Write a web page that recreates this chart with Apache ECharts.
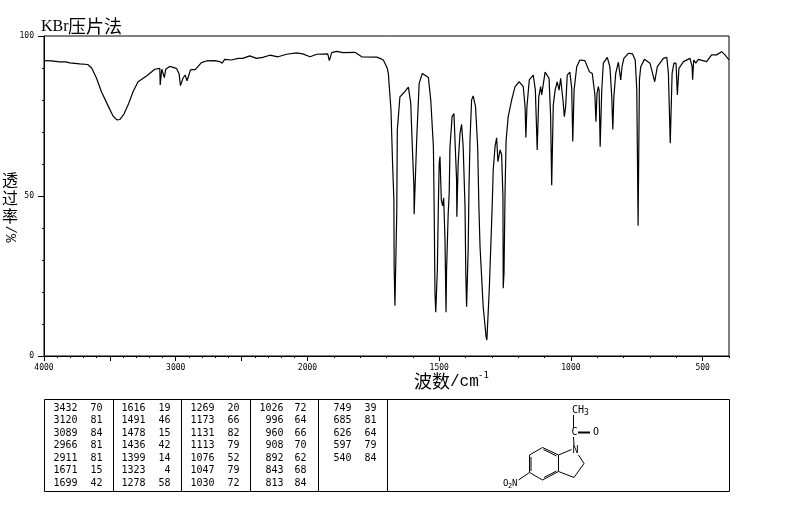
<!DOCTYPE html>
<html lang="zh">
<head>
	<meta charset="UTF-8">
	<title>KBr压片法</title>
	<style>
	body, div, p {
		margin: 0;
		padding: 0;
		background: #fff;
	}
	#chart {
		width: 794px;
		height: 510px;
	}
	</style>
</head>
<body>
	<div id="chart"></div>
	<script src="https://cdn.jsdelivr.net/npm/echarts@6/dist/echarts.min.js"></script>
	<script>

	// trace: wavenumber (cm-1) and transmittance (%)
	var wavenumbers = [
		4000,3942,3881,3835,3805,3729,3668,3638,3602,3564,3516,3476,3446,3425,3393,3362,3324,3286,3222,3159,
		3121,3118,3106,3096,3086,3076,3046,2995,2975,2964,2945,2929,2914,2888,2873,2850,2805,2767,2704,2666,
		2648,2628,2577,2527,2491,2438,2387,2339,2286,2223,2159,2084,2036,1990,1965,1923,1917,1908,1889,1865,
		1820,1794,1737,1725,1712,1706,1697,1693,1689,1683,1677,1672,1671,1668,1661,1659,1649,1636,1617,1608,
		1602,1596,1595,1592,1585,1576,1564,1541,1532,1522,1519,1516,1513,1507,1503,1500,1497,1492,1487,1483,
		1478,1474,1472,1466,1462,1459,1451,1444,1439,1434,1433,1428,1421,1415,1409,1402,1399,1396,1390,1387,
		1383,1377,1371,1362,1354,1349,1345,1333,1322,1319,1310,1301,1297,1295,1288,1282,1277,1269,1263,1258,
		1257,1254,1250,1246,1238,1225,1212,1196,1181,1174,1171,1167,1158,1143,1135,1128,1122,1115,1111,1098,
		1083,1077,1073,1067,1060,1052,1045,1039,1033,1029,1025,1020,1014,1004,997,993,988,978,966,947,
		930,919,909,905,901,896,893,889,883,877,862,852,845,841,837,830,820,815,811,806,
		799,782,766,756,750,745,740,735,721,700,690,682,672,649,636,630,623,616,609,601,
		596,590,573,548,540,538,534,526,517,485,466,447,428,415,400
	];
	var transmittance = [
		92.3,92.2,91.9,91.9,91.6,91.3,91.1,90,86.9,82.6,78.4,75,73.8,73.9,75.6,78.4,82.6,85.7,87.5,89.6,
		89.9,84.7,89.6,89.4,87,89.6,90.5,89.9,88.3,84.5,86.8,87.8,86,89.4,89.9,89.6,91.7,92.2,92.3,92,
		91.5,92.7,92.5,93,93,93.8,93,93.3,94,93.5,94.3,94.7,94.4,93.5,94.3,94.4,92.3,94.8,95.2,94.8,
		94.9,93.5,93.4,93,92.5,91.5,89.9,88.3,83.7,76.9,60.3,48.8,27.9,15.7,45.1,70.6,81,82.1,84,79,
		65.4,52.9,44.3,51.9,68.5,85.2,88.3,87,80,65.4,45.6,19.6,13.7,26.9,47.8,60.2,62.3,48.8,46.9,49.4,
		36.3,13.7,26.9,44.1,50.9,65.4,74.8,75.8,65.4,55,43.5,60.2,69.6,72.4,65.4,46.7,25.9,15.4,33.1,51.9,
		67.5,80,81.3,77.9,65.4,45.6,34.2,15.4,6,5,20.6,41.6,51.9,58.1,65.4,68.2,60.7,64.4,62.9,49.8,
		21.2,25.9,51.3,67.5,74.8,80,84.2,85.7,84.2,77.9,68.3,77.9,86.3,87.8,83.1,64.4,81,84.2,81.6,88.7,
		86.8,74.8,53.4,78.4,83.1,85.7,83.1,86.8,86.3,79,74.8,77.9,87.8,88.7,83.7,67,83.1,90.4,92.5,92.3,
		88.8,88.3,81.6,73.2,82.1,84.2,83.1,65.4,83.1,91.5,93.3,90.4,81,70.8,81,88.3,91.8,88.8,86.3,90.4,
		93,94.6,94.4,92.5,83.1,40.7,86.3,90.4,92.7,91.5,88.3,85.7,90.4,93,93.3,88.3,66.5,88.3,91.5,91.5,
		81.6,89.9,92,93,90.4,86.3,92.5,91.5,92.7,92,94.1,94.1,95.1,94.1,92.5
	];

	// x axis tick labels (wavenumber)
	var majorLabels = [4000, 3000, 2000, 1500, 1000, 500];
	var majorTicks = [4000, 3500, 3000, 2500, 2000, 1500, 1000, 500];

	// peak table, one pair of lists per column
	var peakWave1 = [3432, 3120, 3089, 2966, 2911, 1671, 1699];
	var peakTran1 = [70, 81, 84, 81, 81, 15, 42];
	var peakWave2 = [1616, 1491, 1478, 1436, 1399, 1323, 1278];
	var peakTran2 = [19, 46, 15, 42, 14, 4, 58];
	var peakWave3 = [1269, 1173, 1131, 1113, 1076, 1047, 1030];
	var peakTran3 = [20, 66, 82, 79, 52, 79, 72];
	var peakWave4 = [1026, 996, 960, 908, 892, 843, 813];
	var peakTran4 = [72, 64, 66, 70, 62, 68, 84];
	var peakWave5 = [749, 685, 626, 597, 540];
	var peakTran5 = [39, 81, 64, 79, 84];

	// the instrument doubles the scale below 2000 cm-1
	function toAxis(wn) {
		return wn >= 2000 ? 4000 - wn : 2000 + 2 * (2000 - wn);
	}
	function fromAxis(u) {
		return u <= 2000 ? 4000 - u : 2000 - (u - 2000) / 2;
	}

	var seriesData = wavenumbers.map(function (wn, i) {
		return [toAxis(wn), transmittance[i]];
	});

	// minor ticks: every 100 cm-1 over the whole range
	var minorTicks = [];
	for (var wn = 4000; wn >= 400; wn -= 100) {
		minorTicks.push(toAxis(wn));
	}

	var MONO = '"DejaVu Sans Mono", monospace';
	var CJK = '"Noto Sans CJK SC", sans-serif';

	var graphics = [];

	function addText(text, x, y, font, align, rotation) {
		graphics.push({
			type: 'text',
			x: x,
			y: y,
			rotation: rotation || 0,
			silent: true,
			style: { text: text, x: 0, y: 0, font: font, fill: '#000', align: align || 'left', verticalAlign: 'middle' }
		});
	}

	function addLine(x1, y1, x2, y2, w) {
		graphics.push({
			type: 'line',
			silent: true,
			shape: { x1: x1, y1: y1, x2: x2, y2: y2 },
			style: { stroke: '#000', lineWidth: w || 1 }
		});
	}

	// title
	addText('KBr', 41, 27, '16px "Liberation Serif", serif');
	addText('压片法', 68, 26, '18px ' + CJK);

	// y title, upright characters stacked, unit turned
	addText('透', 10, 180, '16px ' + CJK, 'center');
	addText('过', 10, 198, '16px ' + CJK, 'center');
	addText('率', 10, 216, '16px ' + CJK, 'center');
	addText('/%', 10, 234, '14px "Liberation Mono", monospace', 'center', -Math.PI / 2);

	// x title
	addText('波数', 414, 381, '18px ' + CJK);
	addText('/cm', 450, 382, '16px "Liberation Mono", monospace');
	addText('-1', 478, 376, '9px ' + MONO);

	// table frame
	var tableLeft = 44.5, tableRight = 729.5, tableTop = 399.5, tableBottom = 491.5;
	graphics.push({
		type: 'rect',
		silent: true,
		shape: { x: tableLeft, y: tableTop, width: tableRight - tableLeft, height: tableBottom - tableTop },
		style: { fill: 'none', stroke: '#000', lineWidth: 1 }
	});
	[113.5, 181.5, 250.5, 318.5, 387.5].forEach(function (x) {
		addLine(x, tableTop, x, tableBottom);
	});

	// table text
	var peakColumns = [
		[peakWave1, peakTran1, 77.5, 102.5],
		[peakWave2, peakTran2, 145.5, 170.5],
		[peakWave3, peakTran3, 214.5, 239.5],
		[peakWave4, peakTran4, 283.5, 306.5],
		[peakWave5, peakTran5, 351.5, 376.5]
	];
	peakColumns.forEach(function (col) {
		col[0].forEach(function (v, r) {
			var y = 408.3 + r * 12.5;
			addText(String(v), col[2], y, '10px ' + MONO, 'right');
			addText(String(col[1][r]), col[3], y, '10px ' + MONO, 'right');
		});
	});

	// structure: 1-acetyl-5-nitroindoline
	addText('CH', 572, 410.5, '10px ' + MONO);
	addText('3', 584, 412.5, '8px ' + MONO);
	addLine(573.5, 415, 573.5, 428);
	addText('C', 574.5, 432.5, '10px ' + MONO, 'center');
	addLine(578, 432.5, 590, 432.5, 2);
	addText('O', 596, 432.5, '10px ' + MONO, 'center');
	addLine(573.5, 437, 574, 445);
	addText('N', 575.5, 450, '10px ' + MONO, 'center');
	addLine(542.5, 447.5, 558.5, 455);
	addLine(543.5, 449.5, 556.5, 456);
	addLine(558.5, 455, 558.5, 471.5);
	addLine(558.5, 471.5, 542.5, 480);
	addLine(556.5, 471, 544, 477.5);
	addLine(542.5, 480, 529.5, 472.5);
	addLine(529.5, 472.5, 529.5, 455);
	addLine(531, 471, 531, 457);
	addLine(529.5, 455, 542.5, 447.5);
	addLine(558.5, 455, 571.5, 449.5);
	addLine(578.5, 455, 584, 463.5);
	addLine(584, 463.5, 574, 477.5);
	addLine(574, 477.5, 558.5, 471.5);
	addLine(529.5, 472.5, 518.5, 480);
	addText('O', 503, 484, '9px ' + MONO);
	addText('2', 508, 486, '7px ' + MONO);
	addText('N', 512, 484, '9px ' + MONO);

	var chart = echarts.init(document.getElementById('chart'), null, { renderer: 'canvas' });

	chart.setOption({
		animation: false,
		backgroundColor: '#fff',
		grid: {
			left: 44,
			top: 36,
			width: 685,
			height: 320,
			show: true,
			borderColor: '#000',
			borderWidth: 1,
			backgroundColor: 'transparent'
		},
		xAxis: [
			{
				type: 'value',
				position: 'bottom',
				min: 0,
				max: toAxis(400),
				axisLine: { show: true, onZero: false, lineStyle: { color: '#000', width: 1 } },
				axisTick: { show: true, length: 5, customValues: majorTicks.map(toAxis), lineStyle: { color: '#000' } },
				axisLabel: {
					show: true,
					margin: 8,
					color: '#000',
					fontFamily: MONO,
					fontSize: 8,
					customValues: majorLabels.map(toAxis),
					formatter: function (u) {
						return String(fromAxis(u));
					}
				},
				splitLine: { show: false }
			},
			{
				// short ticks only
				type: 'value',
				position: 'bottom',
				min: 0,
				max: toAxis(400),
				axisLine: { show: false, onZero: false },
				axisTick: { show: true, length: 2, customValues: minorTicks, lineStyle: { color: '#000' } },
				axisLabel: { show: false },
				splitLine: { show: false }
			}
		],
		yAxis: {
			type: 'value',
			min: 0,
			max: 100,
			interval: 50,
			axisLine: { show: true, onZero: false, lineStyle: { color: '#000', width: 1 } },
			axisTick: { show: true, length: 6, lineStyle: { color: '#000' } },
			minorTick: { show: true, splitNumber: 5, length: 2, lineStyle: { color: '#000' } },
			axisLabel: { margin: 10, color: '#000', fontFamily: MONO, fontSize: 8 },
			splitLine: { show: false }
		},
		series: [{
			type: 'line',
			xAxisIndex: 0,
			data: seriesData,
			showSymbol: false,
			smooth: false,
			silent: true,
			lineStyle: { color: '#000', width: 1.2 }
		}],
		graphic: graphics
	});

	</script>
</body>
</html>
